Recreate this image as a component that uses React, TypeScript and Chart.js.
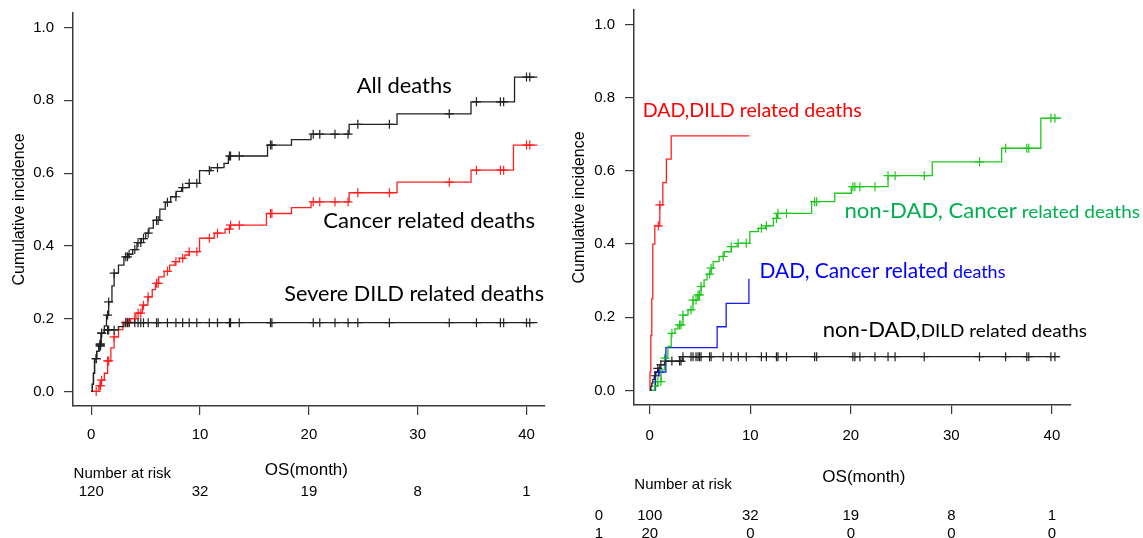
import React, { useEffect, useRef } from "react";
import { Chart, registerables } from "chart.js";

Chart.register(...registerables);

// ---------------- shared axis values ----------------
const xTickValues = [0, 10, 20, 30, 40];
const yTickValues = [0, 0.2, 0.4, 0.6, 0.8, 1.0];
const riskTimes = [0, 10, 20, 30, 40];

// ---------------- left panel (all patients) ----------------
const allDeathTimes = [0, 0.1, 0.2, 0.3, 0.5, 0.7, 0.9, 1.2, 1.4, 1.6, 1.9, 2.1, 2.5, 3.0, 3.4, 3.8, 4.2, 4.6, 5.0, 5.3, 5.7, 6.3, 6.8, 7.3, 7.8, 8.3, 9.0, 9.95, 11.0, 12.2, 12.6, 16.2, 18.4, 20.2, 23.7, 28.1, 34.9, 38.9, 41.0];
const allDeathValues = [0, 0.02, 0.05, 0.09, 0.11, 0.13, 0.16, 0.18, 0.21, 0.246, 0.29, 0.325, 0.347, 0.37, 0.377, 0.39, 0.409, 0.42, 0.435, 0.449, 0.47, 0.501, 0.52, 0.535, 0.55, 0.56, 0.572, 0.607, 0.615, 0.627, 0.647, 0.677, 0.692, 0.707, 0.734, 0.763, 0.796, 0.864, 0.864];

const cancerTimes = [0, 0.7, 0.9, 1.2, 1.5, 1.8, 2.1, 2.5, 2.9, 3.6, 4.1, 4.7, 5.2, 5.6, 5.9, 6.2, 6.7, 7.2, 7.7, 8.1, 8.6, 9.0, 9.95, 11.3, 12.3, 12.8, 16.1, 18.4, 20.2, 23.7, 28.1, 34.9, 38.8, 41.0];
const cancerValues = [0, 0.016, 0.031, 0.05, 0.084, 0.12, 0.15, 0.17, 0.19, 0.2, 0.215, 0.237, 0.26, 0.28, 0.297, 0.315, 0.33, 0.347, 0.357, 0.366, 0.375, 0.384, 0.421, 0.435, 0.446, 0.457, 0.489, 0.505, 0.521, 0.546, 0.575, 0.608, 0.677, 0.677];

const severeDildTimes = [0, 0.1, 0.2, 0.3, 0.5, 0.7, 0.9, 1.2, 2.5, 3.0, 41.0];
const severeDildValues = [0, 0.02, 0.05, 0.09, 0.11, 0.125, 0.16, 0.169, 0.178, 0.189, 0.189];

const leftCensorTimes = [0.45, 0.8, 0.85, 0.95, 1.5, 1.6, 2.1, 3.17, 3.33, 3.48, 4.0, 4.3, 4.55, 4.8, 5.23, 6.0, 6.15, 7.0, 7.78, 8.4, 9.0, 9.7, 10.85, 11.6, 12.7, 12.8, 13.6, 16.47, 16.6, 20.4, 21.0, 22.4, 23.6, 24.5, 27.4, 32.9, 35.4, 37.6, 37.9, 40.0, 40.3];

const leftAtRisk = [120, 32, 19, 8, 1];

// ---------------- right panel (DAD vs non-DAD) ----------------
const dadDildTimes = [0, 0.02, 0.1, 0.2, 0.3, 0.5, 1.0, 1.3, 1.65, 2.13, 9.9];
const dadDildValues = [0, 0.05, 0.15, 0.25, 0.4, 0.45, 0.507, 0.568, 0.632, 0.696, 0.696];

const dadCancerTimes = [0, 0.57, 1.6, 6.7, 7.6, 9.86];
const dadCancerValues = [0, 0.05, 0.117, 0.174, 0.238, 0.305];

const nonDadCancerTimes = [0, 0.5, 0.8, 1.13, 1.46, 1.8, 2.13, 2.5, 2.8, 3.3, 3.8, 4.3, 4.8, 5.1, 5.4, 5.7, 6.1, 6.3, 6.9, 7.4, 8.1, 8.7, 9.95, 10.8, 11.5, 12.3, 12.7, 16.1, 18.4, 20.05, 23.7, 28.1, 35.0, 38.9, 40.9];
const nonDadCancerValues = [0, 0.012, 0.024, 0.056, 0.088, 0.12, 0.156, 0.168, 0.179, 0.206, 0.22, 0.247, 0.261, 0.284, 0.302, 0.318, 0.334, 0.352, 0.366, 0.379, 0.393, 0.402, 0.434, 0.443, 0.45, 0.47, 0.484, 0.516, 0.539, 0.557, 0.587, 0.625, 0.662, 0.744, 0.744];

const nonDadDildTimes = [0, 0.1, 0.2, 0.3, 0.45, 0.6, 0.8, 1.0, 1.5, 3.3, 40.8];
const nonDadDildValues = [0, 0.01, 0.02, 0.03, 0.04, 0.05, 0.06, 0.07, 0.08, 0.092, 0.092];

const nonDadCensorTimes = [0.5, 0.8, 1.1, 1.5, 2.2, 2.96, 3.1, 3.3, 4.1, 4.3, 4.6, 4.8, 4.95, 5.1, 5.95, 6.1, 7.3, 8.1, 8.8, 9.6, 11.1, 11.6, 12.6, 12.75, 13.6, 16.4, 16.6, 20.2, 20.4, 20.9, 22.4, 23.7, 24.4, 27.3, 32.8, 35.4, 37.5, 37.7, 39.9, 40.3];
const dadCensorTimes = [0.85, 1.0];

const rightAtRiskGroup0 = [100, 32, 19, 8, 1];
const rightAtRiskGroup1 = [20, 0, 0, 0, 0];

// ---------------- styling ----------------
const AXIS_FONT = "'Liberation Sans', Arial, Helvetica, sans-serif";
const NOTE_FONT = "Lato, 'Open Sans', 'Noto Sans', sans-serif";
const AXIS_COLOR = "#3a3a3a";

function stepAt(times: number[], values: number[], t: number) {
  let v = values[0];
  for (let i = 0; i < times.length; i++) if (times[i] <= t) v = values[i];
  return v;
}

function curve(times: number[], values: number[], color: string) {
  return {
    data: times.map((t, i) => ({ x: t, y: values[i] })),
    borderColor: color,
    backgroundColor: color,
    borderWidth: 1.3,
    stepped: true,
    pointRadius: 0,
    fill: false,
  };
}

function marks(times: number[], values: number[], censor: number[], color: string) {
  const end = times[times.length - 1];
  return {
    data: censor.filter((t) => t <= end).map((t) => ({ x: t, y: stepAt(times, values, t) })),
    showLine: false,
    pointStyle: "cross",
    pointRadius: 4.5,
    pointBorderWidth: 1.2,
    pointBorderColor: color,
    pointBackgroundColor: color,
    borderColor: color,
  };
}

type Part = { text: string; size: number };
type Note = { parts: Part[]; x: number; y: number; width: number; color: string };

function drawNote(ctx: CanvasRenderingContext2D, n: Note) {
  let total = 0;
  const widths = n.parts.map((p) => {
    ctx.font = `${p.size}px ${NOTE_FONT}`;
    const w = ctx.measureText(p.text).width;
    total += w;
    return w;
  });
  const k = n.width / total;
  ctx.save();
  ctx.translate(n.x, n.y);
  ctx.scale(k, 1);
  ctx.fillStyle = n.color;
  ctx.textAlign = "left";
  ctx.textBaseline = "alphabetic";
  let cx = 0;
  n.parts.forEach((p, i) => {
    ctx.font = `${p.size}px ${NOTE_FONT}`;
    ctx.fillText(p.text, cx, 0);
    cx += widths[i];
  });
  ctx.restore();
}

type PanelText = {
  notes: Note[];
  xTitle: { x: number; y: number };
  riskHeader: { x: number; y: number };
  rowLabelX: number;
  rows: { label: string | null; values: number[]; y: number }[];
};

function textPlugin(cfg: PanelText) {
  return {
    id: "panelText",
    afterDraw(chart: any) {
      const ctx: CanvasRenderingContext2D = chart.ctx;
      const xs = chart.scales.x;
      ctx.save();
      cfg.notes.forEach((n) => drawNote(ctx, n));
      ctx.fillStyle = "#000";
      ctx.textBaseline = "alphabetic";
      ctx.textAlign = "center";
      ctx.font = `17px ${AXIS_FONT}`;
      ctx.fillText("OS(month)", cfg.xTitle.x, cfg.xTitle.y);
      ctx.font = `15px ${AXIS_FONT}`;
      ctx.textAlign = "left";
      ctx.fillText("Number at risk", cfg.riskHeader.x, cfg.riskHeader.y);
      ctx.textAlign = "center";
      cfg.rows.forEach((row) => {
        if (row.label !== null) ctx.fillText(row.label, cfg.rowLabelX, row.y);
        row.values.forEach((v, i) => ctx.fillText(String(v), xs.getPixelForValue(riskTimes[i]), row.y));
      });
      ctx.restore();
    },
  };
}

type Frame = {
  xMin: number;
  xMax: number;
  yWidth: number;
  xHeight: number;
  padRight: number;
  padTop: number;
  xLabelPad: number;
};

function buildConfig(datasets: any[], f: Frame, text: PanelText) {
  const grid = {
    drawOnChartArea: false,
    drawTicks: true,
    tickLength: 9,
    color: AXIS_COLOR,
    lineWidth: 1.2,
  };
  const border = { display: true, color: AXIS_COLOR, width: 1.5 };
  return {
    type: "line" as const,
    data: { datasets },
    plugins: [textPlugin(text)],
    options: {
      responsive: false,
      animation: false,
      events: [],
      parsing: false,
      layout: { padding: { left: 0, right: f.padRight, top: f.padTop, bottom: 0 } },
      plugins: { legend: { display: false }, tooltip: { enabled: false } },
      scales: {
        x: {
          type: "linear",
          min: f.xMin,
          max: f.xMax,
          afterBuildTicks: (s: any) => {
            s.ticks = xTickValues.map((v) => ({ value: v }));
          },
          afterFit: (s: any) => {
            s.height = f.xHeight;
            s.paddingLeft = 0;
            s.paddingRight = 0;
          },
          ticks: {
            autoSkip: false,
            maxRotation: 0,
            padding: f.xLabelPad,
            color: "#000",
            font: { family: AXIS_FONT, size: 15 },
            callback: (v: any) => String(v),
          },
          grid,
          border,
        },
        y: {
          type: "linear",
          min: -0.04,
          max: 1.04,
          afterBuildTicks: (s: any) => {
            s.ticks = yTickValues.map((v) => ({ value: v }));
          },
          afterFit: (s: any) => {
            s.width = f.yWidth;
            s.paddingTop = 0;
            s.paddingBottom = 0;
          },
          ticks: {
            padding: 10,
            color: "#000",
            font: { family: AXIS_FONT, size: 15 },
            callback: (v: any) => Number(v).toFixed(1),
          },
          title: {
            display: true,
            text: "Cumulative incidence",
            color: "#000",
            font: { family: AXIS_FONT, size: 16 },
            padding: { top: 10, bottom: 0 },
          },
          grid,
          border,
        },
      },
    },
  };
}

function Panel({ left, width, config }: { left: number; width: number; config: () => any }) {
  const ref = useRef<HTMLCanvasElement | null>(null);
  useEffect(() => {
    if (!ref.current) return;
    const chart = new Chart(ref.current, config());
    return () => chart.destroy();
  }, []);
  return (
    <canvas
      ref={ref}
      width={width}
      height={538}
      style={{ position: "absolute", left, top: 0, width, height: 538, display: "block" }}
    />
  );
}

const BLACK = "#222222";
const RED = "#ff2020";
const GREEN_LINE = "#1ec81e";
const BLUE = "#1a1aff";

function leftConfig() {
  const datasets = [
    curve(severeDildTimes, severeDildValues, BLACK),
    curve(cancerTimes, cancerValues, RED),
    curve(allDeathTimes, allDeathValues, BLACK),
    marks(severeDildTimes, severeDildValues, leftCensorTimes, BLACK),
    marks(cancerTimes, cancerValues, leftCensorTimes, RED),
    marks(allDeathTimes, allDeathValues, leftCensorTimes, BLACK),
  ];
  const notes: Note[] = [
    { parts: [{ text: "All deaths", size: 21 }], x: 356.7, y: 93.3, width: 95, color: "#000" },
    { parts: [{ text: "Cancer related deaths", size: 21 }], x: 323.3, y: 228.3, width: 211.7, color: "#000" },
    { parts: [{ text: "Severe DILD related deaths", size: 21 }], x: 284.3, y: 301, width: 259.7, color: "#000" },
  ];
  return buildConfig(
    datasets,
    { xMin: -1.68, xMax: 41.7, yWidth: 73, xHeight: 132, padRight: 15, padTop: 13, xLabelPad: 11 },
    {
      notes,
      xTitle: { x: 306.4, y: 475 },
      riskHeader: { x: 73.6, y: 477.7 },
      rowLabelX: 0,
      rows: [{ label: null, values: leftAtRisk, y: 496 }],
    }
  );
}

function rightConfig() {
  const datasets = [
    curve(nonDadDildTimes, nonDadDildValues, BLACK),
    curve(nonDadCancerTimes, nonDadCancerValues, GREEN_LINE),
    curve(dadCancerTimes, dadCancerValues, BLUE),
    curve(dadDildTimes, dadDildValues, RED),
    marks(nonDadDildTimes, nonDadDildValues, nonDadCensorTimes, BLACK),
    marks(nonDadCancerTimes, nonDadCancerValues, nonDadCensorTimes, GREEN_LINE),
    marks(dadCancerTimes, dadCancerValues, dadCensorTimes, BLUE),
    marks(dadDildTimes, dadDildValues, dadCensorTimes, RED),
  ];
  const notes: Note[] = [
    { parts: [{ text: "DAD,DILD related deaths", size: 19.5 }], x: 82.7, y: 117.3, width: 219, color: "#ff0000" },
    {
      parts: [
        { text: "non-DAD, Cancer", size: 21 },
        { text: " related deaths", size: 18 },
      ],
      x: 284.4,
      y: 218.3,
      width: 295.6,
      color: "#00b050",
    },
    {
      parts: [
        { text: "DAD, Cancer related", size: 21 },
        { text: " deaths", size: 18 },
      ],
      x: 199.6,
      y: 278,
      width: 245.8,
      color: "#0000ff",
    },
    {
      parts: [
        { text: "non-DAD,", size: 21 },
        { text: "DILD related deaths", size: 18 },
      ],
      x: 262.8,
      y: 336.7,
      width: 264.2,
      color: "#000",
    },
  ];
  return buildConfig(
    datasets,
    { xMin: -1.57, xMax: 41.9, yWidth: 74, xHeight: 133, padRight: 72, padTop: 10, xLabelPad: 13 },
    {
      notes,
      xTitle: { x: 303.9, y: 481.7 },
      riskHeader: { x: 74.3, y: 489 },
      rowLabelX: 39,
      rows: [
        { label: "0", values: rightAtRiskGroup0, y: 519.5 },
        { label: "1", values: rightAtRiskGroup1, y: 537.5 },
      ],
    }
  );
}

export default function App() {
  return (
    <div
      style={{
        position: "absolute",
        left: 0,
        top: 0,
        width: 1143,
        height: 538,
        background: "#fff",
        overflow: "hidden",
      }}
    >
      <Panel left={0} width={560} config={leftConfig} />
      <Panel left={560} width={583} config={rightConfig} />
    </div>
  );
}
